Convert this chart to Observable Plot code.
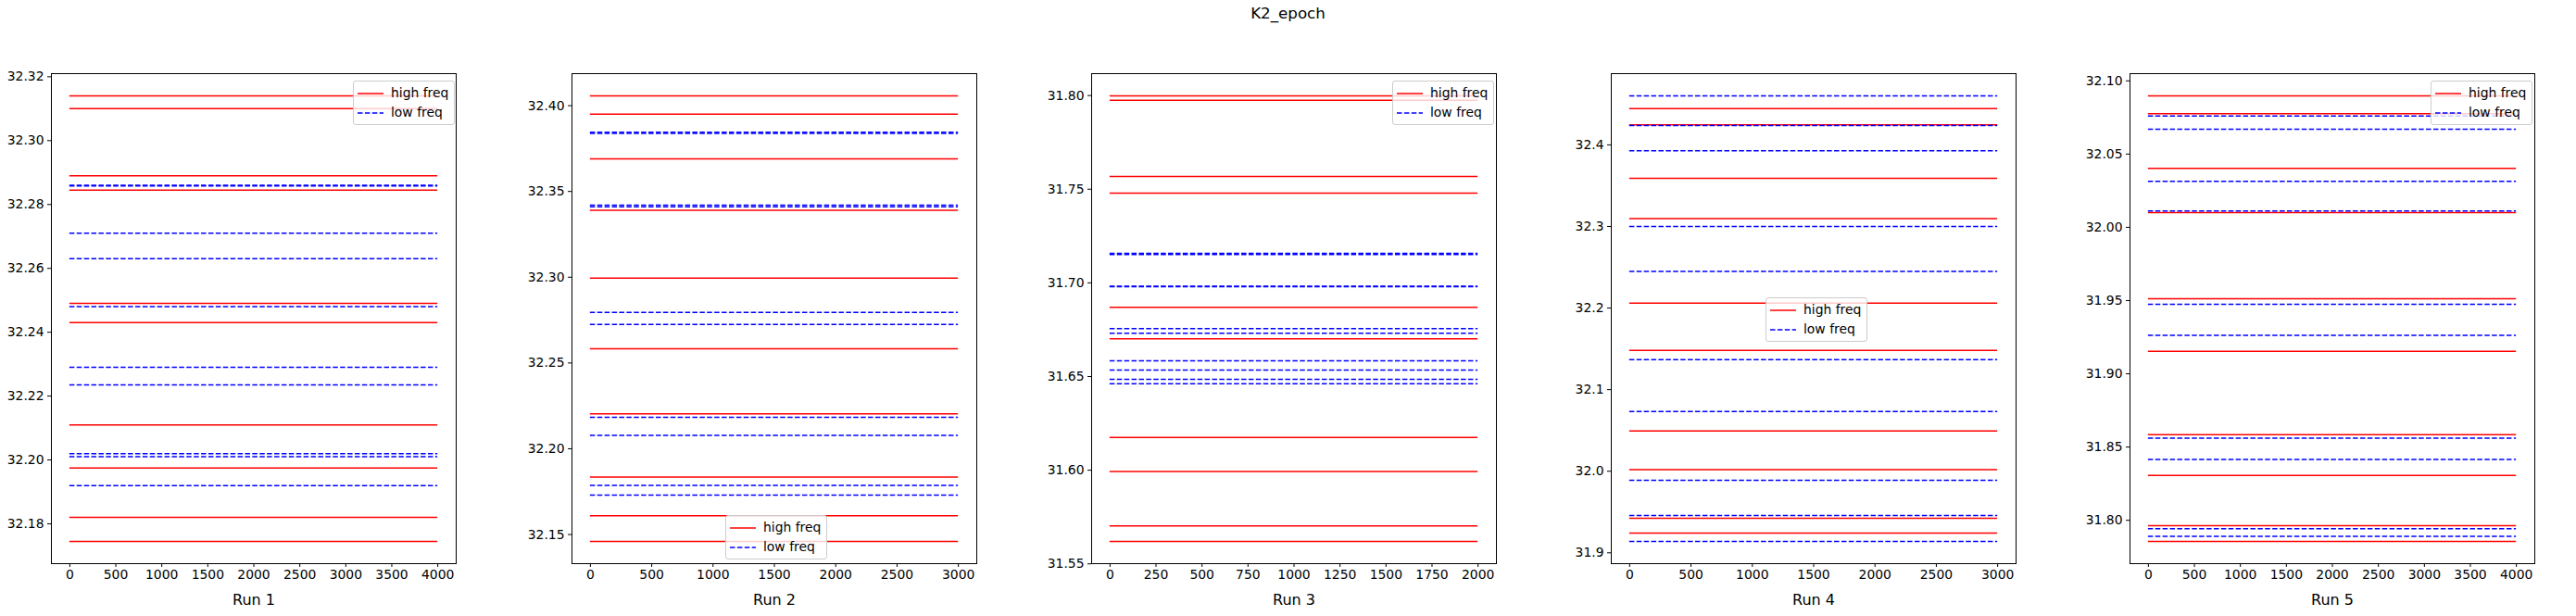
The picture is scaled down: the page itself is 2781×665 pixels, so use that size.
<!DOCTYPE html>
<html><head><meta charset="utf-8">
<script src="https://cdn.jsdelivr.net/npm/d3@7"></script>
<script src="https://cdn.jsdelivr.net/npm/@observablehq/plot@0.6"></script>
<style>
body{margin:0;background:#fff;font-family:"DejaVu Sans",sans-serif;}
#wrap{position:relative;width:2781px;height:665px;}
.title{position:absolute;left:0;width:2781px;top:4px;text-align:center;font-size:16.7px;}
.panel{position:absolute;top:0;}
.legend{position:absolute;background:rgba(255,255,255,0.8);border:1px solid #ccc;border-radius:3px;font-size:13.9px;padding:2px 6px 2px 4px;line-height:21px;}
.legend svg{vertical-align:middle;margin-right:8px;}
</style></head>
<body><div id="wrap"><div class="title">K2_epoch</div></div>
<script>
const runs = ["Run 1","Run 2","Run 3","Run 4","Run 5"];
const xMax = [4000,3000,2000,3000,4000];
const high1 = [32.314,32.310,32.289,32.2845,32.249,32.243,32.211,32.1975,32.182,32.1745];
const low1  = [32.286,32.2858,32.271,32.263,32.248,32.229,32.2235,32.202,32.201,32.192];
const high2 = [32.4057,32.395,32.369,32.339,32.2995,32.2583,32.2203,32.1835,32.161,32.146];
const low2  = [32.3845,32.3838,32.342,32.341,32.2795,32.2725,32.2183,32.2078,32.1786,32.173];
const high3 = [31.7998,31.7975,31.7568,31.7479,31.6870,31.6702,31.6175,31.5993,31.5703,31.562];
const low3  = [31.7157,31.7152,31.6982,31.698,31.6756,31.6731,31.6584,31.6534,31.6485,31.6462];
const high4 = [32.4445,32.4247,32.3589,32.3095,32.206,32.148,32.0492,32.0019,31.9424,31.9242];
const low4  = [32.460,32.4236,32.3928,32.300,32.2448,32.1367,32.0731,31.989,31.9458,31.914];
const high5 = [32.0897,32.0776,32.0403,32.0101,31.9513,31.9154,31.8584,31.8306,31.7964,31.7856];
const low5  = [32.0759,32.0669,32.0314,32.0111,31.9475,31.9262,31.8561,31.8416,31.7943,31.789];
const yTicks1 = [32.18,32.20,32.22,32.24,32.26,32.28,32.30,32.32];
const yTicks2 = [32.15,32.20,32.25,32.30,32.35,32.40];
const yTicks3 = [31.55,31.60,31.65,31.70,31.75,31.80];
const yTicks4 = [31.9,32.0,32.1,32.2,32.3,32.4];
const yTicks5 = [31.80,31.85,31.90,31.95,32.00,32.05,32.10];
const xTicks1 = [0,500,1000,1500,2000,2500,3000,3500,4000];
const xTicks2 = [0,500,1000,1500,2000,2500,3000];
const xTicks3 = [0,250,500,750,1000,1250,1500,1750,2000];

const highs=[high1,high2,high3,high4,high5], lows=[low1,low2,low3,low4,low5];
const yT=[yTicks1,yTicks2,yTicks3,yTicks4,yTicks5];
const xT=[xTicks1,xTicks2,xTicks3,xTicks2,xTicks1];
const yFmt=[".2f",".2f",".2f",".1f",".2f"];
const axL=[55,617,1178,1739,2299], axW=437;
const legPos=[[381,87],[783,556],[1503,87],[1906,321],[2624,87]];
const wrap=document.getElementById("wrap");
const ML=60;
for(let i=0;i<5;i++){
  const all=highs[i].concat(lows[i]);
  const lo=d3.min(all), hi=d3.max(all), m=(hi-lo)*0.05;
  const xm=xMax[i]*0.05;
  const p=Plot.plot({
    width:ML+axW+10, height:665,
    marginLeft:ML, marginRight:10, marginTop:79, marginBottom:57,
    style:{fontFamily:"DejaVu Sans, sans-serif",fontSize:"13.9px",color:"#000",background:"transparent"},
    x:{domain:[-xm,xMax[i]+xm]},
    y:{domain:[lo-m,hi+m]},
    marks:[
      Plot.ruleY(highs[i],{y:d=>d,x1:0,x2:xMax[i],stroke:"red",strokeWidth:1.5}),
      Plot.ruleY(lows[i],{y:d=>d,x1:0,x2:xMax[i],stroke:"blue",strokeWidth:1.5,strokeDasharray:"5.5,2.4"}),
      Plot.frame({stroke:"#000",strokeWidth:1}),
      Plot.axisY({ticks:yT[i],tickFormat:d3.format(yFmt[i]),tickSize:4,tickPadding:4,label:null,fontSize:"13.9px"}),
      Plot.axisX({ticks:xT[i],tickFormat:d=>String(d),tickSize:4,tickPadding:3,label:runs[i],labelAnchor:"center",labelArrow:"none",labelOffset:44,fontSize:"13.9px"})
    ]
  });
  p.classList.add("panel");
  p.style.left=(axL[i]-ML)+"px";
  p.querySelectorAll('[aria-label="x-axis label"] text').forEach(t=>t.style.fontSize="16px");
  wrap.appendChild(p);
  const lg=document.createElement("div");
  lg.className="legend";
  lg.style.left=legPos[i][0]+"px"; lg.style.top=legPos[i][1]+"px";
  lg.innerHTML='<div><svg width="28" height="4"><line x1="0" x2="28" y1="2" y2="2" stroke="red" stroke-width="1.5"/></svg>high freq</div>'+
    '<div><svg width="28" height="4"><line x1="0" x2="28" y1="2" y2="2" stroke="blue" stroke-width="1.5" stroke-dasharray="5.5,2.4"/></svg>low freq</div>';
  wrap.appendChild(lg);
}
</script></body></html>
